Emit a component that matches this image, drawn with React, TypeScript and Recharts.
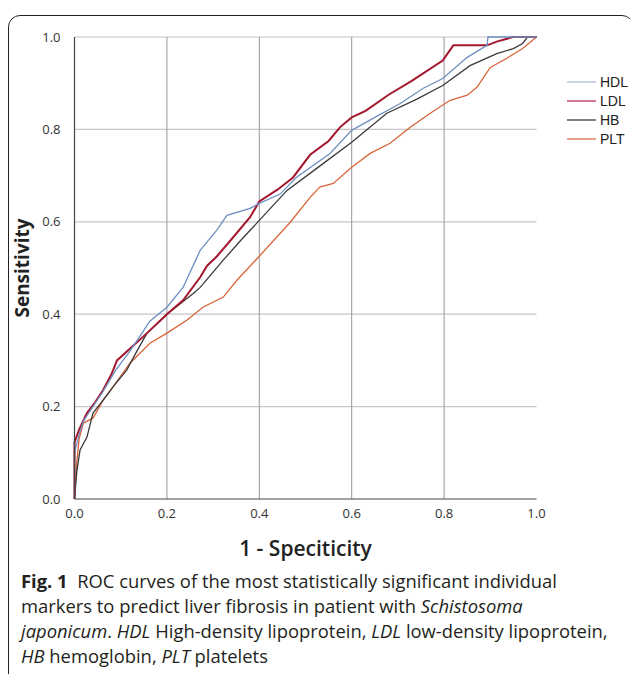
import React from "react";
import { LineChart, Line, XAxis, YAxis, ReferenceLine, Legend, Label } from "recharts";

// ---- data ----
const hdlX = [0, 0, 0.01, 0.02, 0.04, 0.06, 0.09, 0.12, 0.14, 0.163, 0.2, 0.235, 0.265, 0.272, 0.308, 0.33, 0.38, 0.4, 0.445, 0.48, 0.553, 0.6, 0.646, 0.705, 0.755, 0.797, 0.85, 0.893, 0.895, 1.0];
const hdlY = [0, 0.1, 0.14, 0.17, 0.2, 0.23, 0.28, 0.32, 0.35, 0.385, 0.415, 0.458, 0.523, 0.538, 0.582, 0.614, 0.629, 0.64, 0.66, 0.696, 0.748, 0.798, 0.824, 0.856, 0.889, 0.91, 0.956, 0.982, 1.0, 1.0];

const ldlX = [0, 0, 0.01, 0.027, 0.045, 0.062, 0.08, 0.092, 0.124, 0.157, 0.2, 0.235, 0.272, 0.287, 0.308, 0.343, 0.38, 0.4, 0.44, 0.473, 0.51, 0.55, 0.575, 0.6, 0.63, 0.68, 0.73, 0.797, 0.82, 0.893, 0.914, 0.949, 1.0];
const ldlY = [0, 0.123, 0.15, 0.186, 0.21, 0.236, 0.27, 0.3, 0.329, 0.359, 0.4, 0.43, 0.48, 0.505, 0.525, 0.566, 0.61, 0.644, 0.67, 0.696, 0.745, 0.775, 0.805, 0.826, 0.84, 0.875, 0.905, 0.949, 0.982, 0.982, 0.99, 1.0, 1.0];

const hbX = [0, 0.005, 0.012, 0.027, 0.04, 0.062, 0.085, 0.113, 0.135, 0.157, 0.2, 0.257, 0.272, 0.322, 0.36, 0.4, 0.46, 0.53, 0.6, 0.676, 0.74, 0.797, 0.856, 0.914, 0.95, 0.97, 0.98, 1.0];
const hbY = [0, 0.06, 0.106, 0.134, 0.186, 0.214, 0.245, 0.279, 0.32, 0.359, 0.4, 0.445, 0.458, 0.517, 0.56, 0.603, 0.668, 0.72, 0.772, 0.835, 0.865, 0.895, 0.938, 0.964, 0.975, 0.986, 0.999, 1.0];

const pltX = [0, 0.005, 0.01, 0.019, 0.04, 0.062, 0.083, 0.12, 0.163, 0.2, 0.243, 0.278, 0.322, 0.352, 0.395, 0.467, 0.51, 0.531, 0.56, 0.6, 0.64, 0.683, 0.726, 0.77, 0.813, 0.85, 0.871, 0.9, 0.936, 0.97, 1.0];
const pltY = [0, 0.08, 0.13, 0.164, 0.175, 0.214, 0.242, 0.294, 0.337, 0.359, 0.387, 0.415, 0.437, 0.474, 0.52, 0.599, 0.653, 0.675, 0.683, 0.718, 0.748, 0.77, 0.804, 0.835, 0.863, 0.874, 0.891, 0.934, 0.954, 0.975, 1.0];

const axisTicks = [0, 0.2, 0.4, 0.6, 0.8, 1.0];
const gridX = [0.2, 0.4, 0.6, 0.8];
const gridY = [0.2, 0.4, 0.6, 0.8, 1.0];

const seriesNames = ["HDL", "LDL", "HB", "PLT"];
const lineColors: Record<string, string> = { HDL: "#6f8fc0", LDL: "#a3172f", HB: "#3a3a3a", PLT: "#d9643a" };
const legendColors: Record<string, string> = { HDL: "#b4c5df", LDL: "#c44a6e", HB: "#555555", PLT: "#d98560" };

const zip = (xs: number[], ys: number[]) => xs.map((x, i) => ({ x, y: ys[i] }));
const seriesData: Record<string, { x: number; y: number }[]> = {
  HDL: zip(hdlX, hdlY),
  LDL: zip(ldlX, ldlY),
  HB: zip(hbX, hbY),
  PLT: zip(pltX, pltY),
};

const LegendContent = () => (
  <div style={{ fontFamily: "'Liberation Sans', Arial, sans-serif", fontSize: 14, color: "#222" }}>
    {seriesNames.map((n) => (
      <div key={n} style={{ display: "flex", alignItems: "center", height: 19, whiteSpace: "nowrap" }}>
        <svg width={29} height={4} style={{ marginRight: 4, flexShrink: 0 }}>
          <line x1={0} y1={2} x2={29} y2={2} stroke={legendColors[n]} strokeWidth={1.5} />
        </svg>
        <span>{n}</span>
      </div>
    ))}
  </div>
);

export default function App() {
  return (
    <div style={{ position: "relative", width: 630, height: 674, overflow: "hidden", fontFamily: "'Open Sans', sans-serif" }}>
      <style>{"html,body{margin:0;padding:0;overflow:hidden;}"}</style>
      <div
        style={{
          position: "absolute",
          left: 8,
          top: 15,
          width: 626,
          height: 720,
          border: "1.5px solid #222",
          borderRadius: 12,
          boxSizing: "border-box",
        }}
      />
      <div style={{ position: "absolute", left: 8, top: 8 }}>
        <LineChart width={622} height={560} margin={{ top: 29, right: 93.5, left: 6.5, bottom: 9 }}>
          <XAxis
            type="number"
            dataKey="x"
            domain={[0, 1]}
            ticks={axisTicks}
            tickFormatter={(v: number) => v.toFixed(1)}
            tickLine={false}
            tickMargin={4}
            axisLine={{ stroke: "#444", strokeWidth: 1.2 }}
            tick={{ fill: "#333", fontSize: 13, fontFamily: "'Open Sans', sans-serif" }}
            height={60}
            allowDuplicatedCategory={false}
          >
            <Label
              value="1 - Speciticity"
              position="insideBottom"
              offset={3}
              style={{ fontSize: 21, fontWeight: 600, fill: "#222", fontFamily: "'Open Sans', sans-serif" }}
            />
          </XAxis>
          <YAxis
            type="number"
            dataKey="y"
            domain={[0, 1]}
            ticks={axisTicks}
            tickFormatter={(v: number) => v.toFixed(1)}
            tickLine={false}
            tickMargin={8}
            axisLine={{ stroke: "#444", strokeWidth: 1.2 }}
            tick={{ fill: "#333", fontSize: 13, fontFamily: "'Open Sans', sans-serif" }}
            width={60}
          >
            <Label
              value="Sensitivity"
              angle={-90}
              position="insideLeft"
              offset={7.5}
              style={{ fontSize: 19, fontWeight: 700, fill: "#222", textAnchor: "middle", fontFamily: "'Open Sans', sans-serif" }}
            />
          </YAxis>
          {gridY.map((v) => (
            <ReferenceLine key={"gy" + v} y={v} stroke="#c6c6c6" strokeWidth={1.2} />
          ))}
          {gridX.map((v) => (
            <ReferenceLine key={"gx" + v} x={v} stroke="#9c949b" strokeWidth={1} />
          ))}
          <Legend
            layout="vertical"
            align="center"
            verticalAlign="middle"
            content={<LegendContent />}
            wrapperStyle={{ position: "absolute", left: 559, top: 64, width: 62, height: 80 }}
          />
          <Line data={seriesData.PLT} dataKey="y" name="PLT" type="linear" stroke={lineColors.PLT} strokeWidth={1.3} dot={false} isAnimationActive={false} />
          <Line data={seriesData.HB} dataKey="y" name="HB" type="linear" stroke={lineColors.HB} strokeWidth={1.3} dot={false} isAnimationActive={false} />
          <Line data={seriesData.LDL} dataKey="y" name="LDL" type="linear" stroke={lineColors.LDL} strokeWidth={2} dot={false} isAnimationActive={false} />
          <Line data={seriesData.HDL} dataKey="y" name="HDL" type="linear" stroke={lineColors.HDL} strokeWidth={1.3} dot={false} isAnimationActive={false} />
        </LineChart>
      </div>
      <div
        style={{
          position: "absolute",
          left: 21,
          top: 568,
          width: 609,
          fontSize: 18.4,
          lineHeight: "25px",
          color: "#231f20",
          whiteSpace: "nowrap",
          fontFamily: "'Open Sans', sans-serif",
        }}
      >
        <b>Fig. 1</b>&nbsp; ROC curves of the most statistically significant individual
        <br />
        markers to predict liver fibrosis in patient with <i>Schistosoma</i>
        <br />
        <i>japonicum</i>. <i>HDL</i> High-density lipoprotein, <i>LDL</i> low-density lipoprotein,
        <br />
        <i>HB</i> hemoglobin, <i>PLT</i> platelets
      </div>
    </div>
  );
}
